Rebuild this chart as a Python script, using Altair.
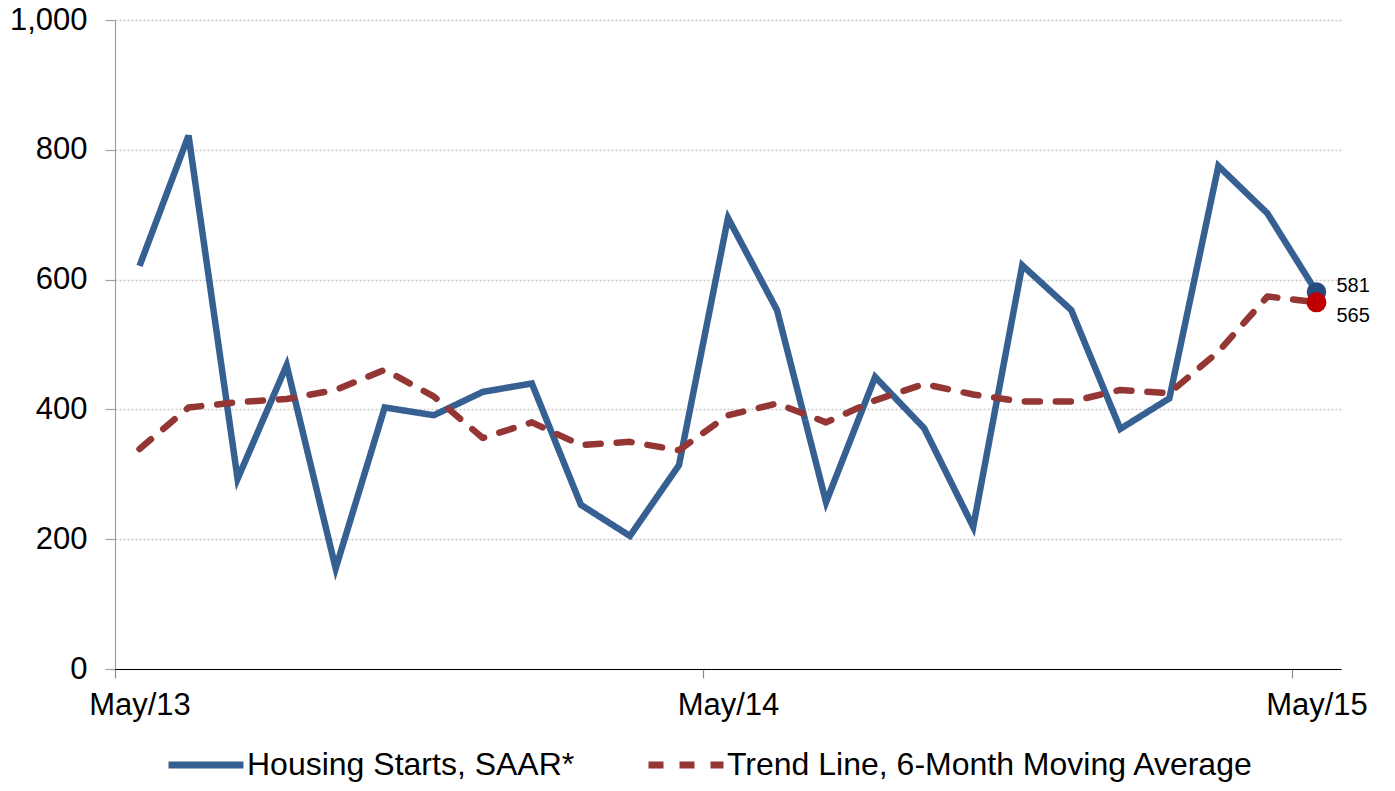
import altair as alt
import pandas as pd

# ---- data ----
months = ["May/13", "Jun/13", "Jul/13", "Aug/13", "Sep/13", "Oct/13", "Nov/13", "Dec/13",
          "Jan/14", "Feb/14", "Mar/14", "Apr/14", "May/14", "Jun/14", "Jul/14", "Aug/14",
          "Sep/14", "Oct/14", "Nov/14", "Dec/14", "Jan/15", "Feb/15", "Mar/15", "Apr/15", "May/15"]
starts = [621, 822, 293, 468, 155, 403, 391, 427, 440, 253, 205, 314, 695,
          553, 257, 450, 371, 219, 622, 553, 370, 417, 775, 702, 581]
trend = [339, 403, 411, 416, 430, 461, 420, 356, 380, 345, 350, 337, 391,
         409, 380, 414, 439, 423, 412, 412, 430, 425, 489, 574, 565]
series_names = ["Housing Starts, SAAR*", "Trend Line, 6-Month Moving Average"]
series_colors = ["#376092", "#943634"]
tick_positions = [0, 12, 24]
tick_labels = ["May/13", "May/14", "May/15"]
y_ticks = [0, 200, 400, 600, 800, 1000]

rows = []
for i, m in enumerate(months):
    rows.append({"month": m, "pos": i + 0.5, "value": starts[i], "series": series_names[0]})
    rows.append({"month": m, "pos": i + 0.5, "value": trend[i], "series": series_names[1]})
df = pd.DataFrame(rows)

last_pos = len(months) - 0.5
end_starts = pd.DataFrame({"pos": [last_pos], "value": [starts[-1]]})
end_trend = pd.DataFrame({"pos": [last_pos], "value": [trend[-1]]})

label_expr = " : ".join(
    f"datum.value == {p} ? '{l}'" for p, l in zip(tick_positions[:-1], tick_labels[:-1])
) + f" : '{tick_labels[-1]}'"

FONT = "Liberation Sans"

x_enc = alt.X(
    "pos:Q",
    scale=alt.Scale(domain=[0, len(months)], nice=False, zero=False),
    axis=alt.Axis(
        values=tick_positions, labelExpr=label_expr, title=None, grid=False,
        domainColor="#000000", domainWidth=1.2, tickColor="#8c8c8c", tickSize=9,
        tickWidth=1.2, labelFontSize=31, labelFont=FONT, labelColor="black",
        labelPadding=12, labelOffset=24.5, labelAlign="center", labelFlush=False,
        labelOverlap=False, zindex=1,
    ),
)
y_enc = alt.Y(
    "value:Q",
    scale=alt.Scale(domain=[0, 1000], nice=False),
    axis=alt.Axis(
        values=y_ticks, labelExpr="format(datum.value, ',.0f')", title=None,
        labelFontSize=31, labelFont=FONT,
        labelColor="black", tickSize=10, tickColor="#a0a0a0", tickWidth=1.2,
        domainColor="#a0a0a0", domainWidth=1.2, gridDash=[2, 2], gridColor="#c8c8c8",
        gridWidth=1.5, labelPadding=18,
    ),
)

legend = alt.Legend(
    title=None, orient="none", legendX=50, legendY=704, direction="horizontal",
    columns=2, symbolType="stroke", symbolSize=5625, symbolStrokeWidth=7,
    labelFontSize=32, labelFont=FONT, labelColor="black", labelOffset=0,
    columnPadding=59, labelLimit=0, padding=0,
)
color_enc = alt.Color("series:N", scale=alt.Scale(domain=series_names, range=series_colors),
                      legend=legend)
dash_enc = alt.StrokeDash("series:N",
                          scale=alt.Scale(domain=series_names, range=[[1, 0], [15, 16]]),
                          legend=legend)

base = alt.Chart(df).encode(x=x_enc, y=y_enc, color=color_enc, strokeDash=dash_enc)

blue = base.transform_filter(alt.datum.series == series_names[0]).mark_line(
    strokeWidth=6.5, strokeJoin="miter", strokeCap="butt")
red = base.transform_filter(alt.datum.series == series_names[1]).mark_line(
    strokeWidth=6.5, strokeJoin="round", strokeCap="round")

dot_blue = alt.Chart(end_starts).mark_point(filled=True, size=380, opacity=1, color="#264c7e").encode(
    x="pos:Q", y="value:Q")
dot_red = alt.Chart(end_trend).mark_point(filled=True, size=400, opacity=1, color="#c00000").encode(
    x="pos:Q", y="value:Q")
lab_blue = alt.Chart(end_starts).mark_text(align="left", baseline="alphabetic", dx=20, dy=0,
                                           fontSize=20, font=FONT, color="black").encode(
    x="pos:Q", y="value:Q", text=alt.Text("value:Q", format=","))
lab_red = alt.Chart(end_trend).mark_text(align="left", baseline="alphabetic", dx=20, dy=20,
                                         fontSize=20, font=FONT, color="black").encode(
    x="pos:Q", y="value:Q", text=alt.Text("value:Q", format=","))

chart = alt.layer(blue, red, dot_blue, dot_red, lab_blue, lab_red).properties(
    width=1226, height=649,
    autosize=alt.AutoSizeParams(type="none"),
    padding={"left": 107, "top": 12, "right": 46, "bottom": 114},
    background="white",
).configure_view(stroke=None)

chart.save("out.html", embed_options={"renderer": "svg", "actions": False})
